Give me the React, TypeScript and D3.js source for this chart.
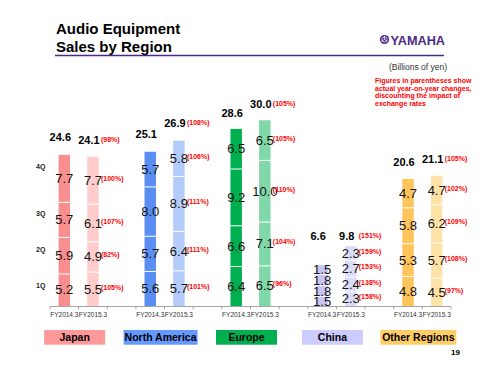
import React from "react";
import * as d3 from "d3";

const regions = ["Japan", "North America", "Europe", "China", "Other Regions"];
const years = ["FY2014.3", "FY2015.3"];
const quarters = ["1Q", "2Q", "3Q", "4Q"];
// quarterly values, 1Q..4Q (billions of yen)
const q2014 = [
  [5.2, 5.9, 5.7, 7.7],
  [5.6, 5.7, 8.0, 5.7],
  [6.4, 6.6, 9.2, 6.5],
  [1.5, 1.8, 1.8, 1.5],
  [4.8, 5.3, 5.8, 4.7],
];
const q2015 = [
  [5.5, 4.9, 6.1, 7.7],
  [5.7, 6.4, 8.9, 5.8],
  [6.5, 7.1, 10.0, 6.5],
  [2.3, 2.4, 2.7, 2.3],
  [4.5, 5.7, 6.2, 4.7],
];
const total2014 = [24.6, 25.1, 28.6, 6.6, 20.6];
const total2015 = [24.1, 26.9, 30.0, 9.8, 21.1];
const qChange = [
  [105, 82, 107, 100],
  [101, 111, 111, 106],
  [96, 104, 110, 105],
  [158, 138, 153, 159],
  [97, 108, 109, 102],
];
const totalChange = [98, 108, 105, 151, 105];

const colors2014 = ["#f98e8e", "#5b8ef2", "#00b050", "#c6c6f5", "#ffc55a"];
const colors2015 = ["#ffcccc", "#b4ccfb", "#80d8a8", "#dcdcfa", "#ffe3a6"];
const legendColors = ["#ff9999", "#6699ff", "#00b050", "#ccccff", "#ffcc66"];

const FONT = "'Liberation Sans', Arial, sans-serif";
const PURPLE = "#4b2a85";
const RED = "#ff0000";

export default function App() {
  const W = 500, H = 375;
  const nSlots = 14;
  const x = d3.scaleBand<number>().domain(d3.range(nSlots)).range([50, 451]).paddingInner(0.6).paddingOuter(0.3);
  const step = x.step();
  const y = d3.scaleLinear().domain([0, 40]).range([306, 59.2]);
  const bw = x.bandwidth();

  const bars: any[] = [];
  regions.forEach((r, ri) => {
    [q2014[ri], q2015[ri]].forEach((vals, yi) => {
      const slot = ri * 3 + yi;
      const cx = (x(slot) as number) + bw / 2;
      let acc = 0;
      const segs = vals.map((v, qi) => {
        const s = { v, qi, y0: acc, y1: acc + v };
        acc += v;
        return s;
      });
      bars.push({ ri, yi, slot, cx, segs, total: yi === 0 ? total2014[ri] : total2015[ri] });
    });
  });

  const legendW = [61, 74, 61, 61, 76];

  return (
    <svg width={W} height={H} style={{ position: "absolute", left: 0, top: 0, background: "#fff" }} fontFamily={FONT}>
      <rect width={W} height={H} fill="#fff" />
      {/* Title */}
      <text x={56} y={34} fontSize={15} fontWeight="bold" fill="#000">Audio Equipment</text>
      <text x={56} y={52} fontSize={15} fontWeight="bold" fill="#000">Sales by Region</text>
      <line x1={55} x2={444} y1={55.5} y2={55.5} stroke={PURPLE} strokeWidth={1.5} />
      {/* Logo */}
      <g>
        <circle cx={384.5} cy={39.5} r={4.6} fill={PURPLE} />
        <circle cx={384.5} cy={39.5} r={2.6} fill="none" stroke="#fff" strokeWidth={0.7} />
        {[0, 120, 240].map((a) => (
          <line key={a} x1={384.5} y1={39.5} x2={384.5 + 3.6 * Math.sin((a * Math.PI) / 180)} y2={39.5 - 3.6 * Math.cos((a * Math.PI) / 180)} stroke="#fff" strokeWidth={0.7} />
        ))}
        <text x={390.5} y={44.5} fontSize={12.5} fontWeight="bold" fill={PURPLE} textLength={54.5} lengthAdjust="spacingAndGlyphs">YAMAHA</text>
      </g>
      <text x={447} y={69.5} fontSize={8.5} textAnchor="end" fill="#333">(Billions of yen)</text>
      {["Figures in parentheses show", "actual year-on-year changes,", "discounting the impact of", "exchange rates"].map((t, i) => (
        <text key={i} x={375} y={83 + i * 7.6} fontSize={7} fontWeight="bold" fill={RED}>{t}</text>
      ))}

      {/* Bars */}
      {bars.map((b) => (
        <g key={b.slot}>
          {b.segs.map((s: any) => (
            <rect key={s.qi} x={x(b.slot)} y={y(s.y1)} width={bw} height={y(s.y0) - y(s.y1)}
              fill={b.yi === 0 ? colors2014[b.ri] : colors2015[b.ri]} />
          ))}
          {b.segs.slice(1).map((s: any) => (
            <line key={"l" + s.qi} x1={x(b.slot)} x2={(x(b.slot) as number) + bw} y1={y(s.y0)} y2={y(s.y0)} stroke="#fff" strokeWidth={1} />
          ))}
        </g>
      ))}

      {/* Axis */}
      <line x1={50} x2={451} y1={306.5} y2={306.5} stroke="#a6a6a6" strokeWidth={1} />
      {d3.range(nSlots + 1).map((k) => (
        <line key={k} x1={50 + k * step} x2={50 + k * step} y1={306.5} y2={309.5} stroke="#a6a6a6" strokeWidth={1} />
      ))}
      {bars.map((b) => (
        <text key={"fy" + b.slot} x={b.cx} y={317} fontSize={6.5} textAnchor="middle" fill="#333">{years[b.yi]}</text>
      ))}

      {/* Quarter labels */}
      {bars[0].segs.map((s: any) => (
        <text key={"q" + s.qi} x={36} y={y(s.y1) + 14} fontSize={7} fontWeight="bold" fill="#222">{quarters[s.qi]}</text>
      ))}

      {/* Value labels */}
      {bars.map((b) => b.segs.map((s: any) => (
        <text key={"v" + b.slot + "-" + s.qi} x={b.cx} y={(y(s.y0) + y(s.y1)) / 2 + 4.5} fontSize={13} textAnchor="middle" fill="#111">{s.v.toFixed(1)}</text>
      )))}

      {/* Percent labels for FY2015.3 */}
      {bars.filter((b) => b.yi === 1).map((b) => b.segs.map((s: any) => (
        <text key={"p" + b.slot + "-" + s.qi} x={b.cx + 8} y={(y(s.y0) + y(s.y1)) / 2 + 0.5} fontSize={7} fontWeight="bold" fill={RED}>({qChange[b.ri][s.qi]}%)</text>
      )))}

      {/* Totals */}
      {bars.map((b) => {
        const isChina = regions[b.ri] === "China";
        const ty = isChina ? y(Math.max(total2014[b.ri], total2015[b.ri])) - 6 : y(b.total) - 13;
        return (
          <g key={"t" + b.slot}>
            <text x={b.cx - 4} y={ty} fontSize={11} fontWeight="bold" textAnchor="middle" fill="#000">{b.total.toFixed(1)}</text>
            {b.yi === 1 && (
              <text x={b.cx + 8} y={ty - 2} fontSize={7} fontWeight="bold" fill={RED}>({totalChange[b.ri]}%)</text>
            )}
          </g>
        );
      })}

      {/* Legend boxes */}
      {regions.map((r, ri) => {
        const c = (x(ri * 3) as number) + bw / 2 + step / 2 - 4;
        const w = legendW[ri];
        return (
          <g key={"lg" + ri}>
            <rect x={c - w / 2} y={330} width={w} height={14.7} fill={legendColors[ri]} />
            <text x={c} y={341} fontSize={10.5} fontWeight="bold" textAnchor="middle" fill="#000">{r}</text>
          </g>
        );
      })}
      <text x={460} y={355} fontSize={8} fontWeight="bold" textAnchor="end" fill="#000">19</text>
    </svg>
  );
}
